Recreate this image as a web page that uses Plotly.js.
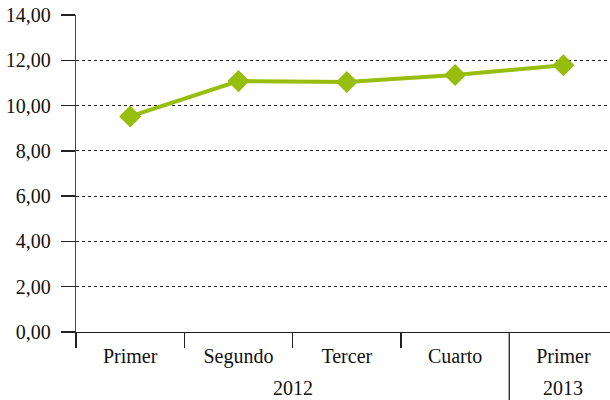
<!DOCTYPE html>
<html>
<head>
<meta charset="utf-8">
<script src="https://cdn.plot.ly/plotly-3.0.1.min.js"></script>
<style>html,body{margin:0;padding:0;background:#fff}#chart{width:610px;height:400px}</style>
</head>
<body>
<div id="chart"></div>
<script>
const quarters = ["Primer", "Segundo", "Tercer", "Cuarto", "Primer"];
const years = ["2012", "2012", "2012", "2012", "2013"];
const values = [9.52, 11.08, 11.04, 11.35, 11.78];
const yTicks = [0, 2, 4, 6, 8, 10, 12, 14];

const idx = quarters.map((_, i) => i);
const groups = [];
years.forEach((y, i) => {
  const g = groups[groups.length - 1];
  if (g && g.name === y) g.end = i; else groups.push({name: y, start: i, end: i});
});

const font = {family: "Liberation Serif", size: 20, color: "#111"};
const mT = 15, mB = 68, H = 400;
const plotH = H - mT - mB;

const shapes = groups.slice(1).map(g => ({
  type: "line", xref: "x", yref: "paper",
  x0: g.start - 0.5, x1: g.start - 0.5, y0: 0, y1: -mB / plotH,
  line: {color: "#222", width: 1.3}
}));
const annotations = groups.map(g => ({
  xref: "x", yref: "paper", x: (g.start + g.end) / 2, y: -(388 - (H - mB)) / plotH,
  text: g.name, showarrow: false, font: font, yanchor: "middle"
}));

const trace = {
  x: idx, y: values, type: "scatter", mode: "lines+markers",
  line: {color: "#97BE0D", width: 4},
  marker: {symbol: "diamond", size: 17, color: "#97BE0D"},
  cliponaxis: false, hoverinfo: "none"
};

const layout = {
  width: 610, height: 400,
  margin: {l: 76, r: 0, t: mT, b: mB, pad: 0},
  paper_bgcolor: "#fff", plot_bgcolor: "#fff",
  showlegend: false,
  font: font,
  xaxis: {
    type: "linear", range: [-0.5, 4.43],
    tickmode: "array", tickvals: idx, ticktext: quarters,
    ticks: "", showgrid: false, zeroline: false,
    showline: true, linecolor: "#222", linewidth: 1.3,
    tickfont: font, ticklabelstandoff: 6,
    minor: {tickmode: "array", tickvals: [-0.5].concat(idx.slice(1).map(i => i - 0.5)).filter(v => !groups.slice(1).some(g => g.start - 0.5 === v)),
            ticks: "outside", ticklen: 15, tickwidth: 1.3, tickcolor: "#222", showgrid: false}
  },
  yaxis: {
    range: [0, 14], tickmode: "array", tickvals: yTicks,
    ticktext: yTicks.map(v => v.toFixed(2).replace(".", ",")),
    ticks: "outside", ticklen: 14, tickwidth: 1.3, tickcolor: "#222",
    showline: true, linecolor: "#444", linewidth: 1.3,
    showgrid: true, gridcolor: "#222", griddash: "dot", gridwidth: 1,
    zeroline: true, zerolinecolor: "#222", zerolinewidth: 1.3,
    tickfont: font, ticklabelstandoff: 6
  },
  shapes: shapes,
  annotations: annotations
};

Plotly.newPlot("chart", [trace], layout, {staticPlot: true});
</script>
</body>
</html>
